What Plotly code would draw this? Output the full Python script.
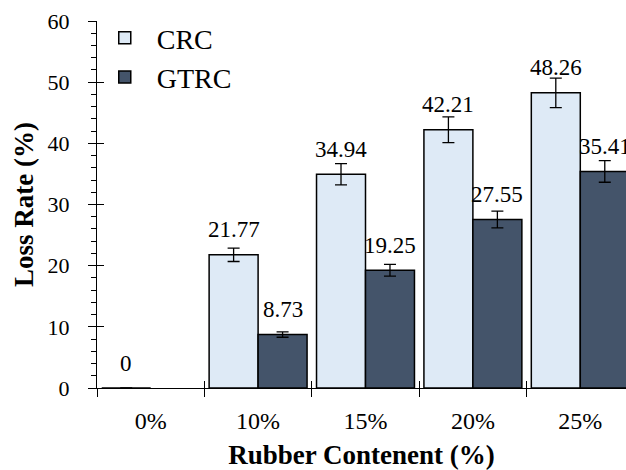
import plotly.graph_objects as go

categories = ["0%", "10%", "15%", "20%", "25%"]
crc_values = [0, 21.77, 34.94, 42.21, 48.26]
gtrc_values = [None, 8.73, 19.25, 27.55, 35.41]
error_percent = 5
series_names = ["CRC", "GTRC"]
colors = ["#DEEAF6", "#44546A"]
y_ticks = [0, 10, 20, 30, 40, 50, 60]

FONT = "'Liberation Serif', 'Times New Roman', serif"
fig = go.Figure()
for name, vals, col in zip(series_names, [crc_values, gtrc_values], colors):
    fig.add_trace(go.Bar(
        name=name, x=categories, y=vals,
        marker=dict(color=col, line=dict(color="black", width=1.5)),
        error_y=dict(type="percent", value=error_percent, color="black",
                     thickness=1.3, width=6),
        hoverinfo="skip",
    ))

# helper trace for crossing tick marks
fig.add_trace(go.Scatter(x=categories, y=[None]*len(categories), xaxis="x2", yaxis="y2",
                         mode="markers", showlegend=False, hoverinfo="skip"))

bar_shift = 24.5
for vals, sgn in [(crc_values, -1), (gtrc_values, 1)]:
    for c, v in zip(categories, vals):
        if v is None:
            continue
        fig.add_annotation(x=c, y=v, text=f"{v:g}" if v == 0 else f"{v:.2f}",
                           showarrow=False, xshift=sgn*bar_shift, yshift=25,
                           yanchor="middle", font=dict(family=FONT, size=23, color="black"))

xr = [-0.5, 4.4256]
fig.update_layout(
    width=626, height=470,
    margin=dict(l=97, r=0, t=21, b=82, autoexpand=False),
    plot_bgcolor="white", paper_bgcolor="white",
    barmode="group", bargap=0.088, bargroupgap=0,
    font=dict(family=FONT, color="black"),
    showlegend=True,
    legend=dict(x=-0.008, y=1.022, xanchor="left", yanchor="top",
                font=dict(family=FONT, size=28, color="black"),
                itemwidth=54, bgcolor="rgba(0,0,0,0)", tracegroupgap=0),
    xaxis=dict(type="category", categoryorder="array", categoryarray=categories,
               range=xr, showline=True, linecolor="black", linewidth=1.3,
               ticks="outside", tickson="boundaries", ticklen=8, tickcolor="black", tickwidth=1.3,
               tickfont=dict(family=FONT, size=24, color="black"), ticklabelstandoff=11,
               showgrid=False, zeroline=False, automargin=False,
               title=dict(text="<b>Rubber Contenent (%)</b>", font=dict(family=FONT, size=27, color="black"), standoff=14)),
    yaxis=dict(range=[0, 60], tickvals=y_ticks, showline=True, linecolor="black", linewidth=1.3,
               ticks="outside", ticklen=8, tickcolor="black", tickwidth=1.3,
               minor=dict(dtick=2, ticks="outside", ticklen=5, tickcolor="black", tickwidth=1.1),
               tickfont=dict(family=FONT, size=22, color="black"), ticklabelstandoff=14,
               showgrid=False, zeroline=False, automargin=False,
               title=dict(text="<b>Loss Rate (%)</b>", font=dict(family=FONT, size=27, color="black"), standoff=6)),
    xaxis2=dict(type="category", categoryorder="array", categoryarray=categories, range=xr,
                overlaying="x", ticks="inside", tickson="boundaries", ticklen=7, tickcolor="black",
                tickwidth=1.3, showticklabels=False, showline=False, showgrid=False, zeroline=False),
    yaxis2=dict(range=[0, 60], tickvals=y_ticks, overlaying="y", ticks="inside", ticklen=7,
                tickcolor="black", tickwidth=1.3, showticklabels=False, showline=False,
                showgrid=False, zeroline=False),
)
fig.write_html("out.html", config={"displayModeBar": False},
               post_script="document.body.style.margin='0';document.body.style.overflow='hidden';")
